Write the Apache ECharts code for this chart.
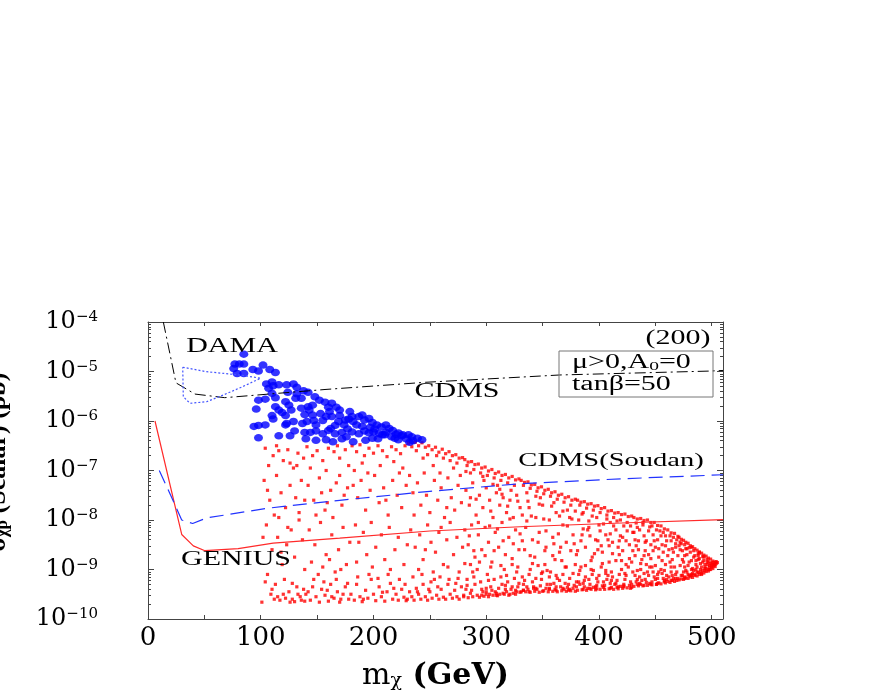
<!DOCTYPE html>
<html>
<head>
<meta charset="utf-8">
<title>Scalar neutralino-proton cross section</title>
<script src="https://cdn.jsdelivr.net/npm/echarts@6/dist/echarts.min.js"></script>
<style>
html, body { margin: 0; padding: 0; background: #fff; }
#chart { width: 872px; height: 698px; }
</style>
</head>
<body>
<div id="chart"></div>
<script>
// x tick labels (GeV) and y decades (pb)
const massTicks = [0, 100, 200, 300, 400, 500];
const decadeTicks = [1e-10, 1e-9, 1e-8, 1e-7, 1e-6, 1e-5, 1e-4];
const minorMultiples = [2, 3, 4, 5, 6, 7, 8, 9];

// limit curves [m (GeV), sigma (pb)]
const cdmsLimit = [[13.6, 1.0e-4], [24.8, 5.9e-6], [30.8, 4.9e-6], [41.7, 3.5e-6], [68, 2.96e-6],
  [157, 4.33e-6], [246, 6.05e-6], [365, 8.5e-6], [498, 1.02e-5], [510, 1.05e-5]];
const damaRegion = [[30.8, 1.22e-5], [52, 9.9e-6], [81.6, 8.5e-6], [99.9, 7.3e-6], [83.3, 4.87e-6],
  [66.8, 3.35e-6], [52, 2.45e-6], [37.2, 2.28e-6], [31.3, 3.1e-6], [30.8, 1.22e-5]];
const soudanLimit = [[10, 1e-7], [20, 3.2e-8], [29.9, 1e-8], [39.6, 8.5e-9], [52, 1.1e-8], [105, 1.72e-8],
  [170, 2.5e-8], [250, 3.8e-8], [330, 5.4e-8], [420, 6.8e-8], [510, 8.2e-8]];
const geniusLimit = [[6.2, 1e-6], [29.9, 5.1e-9], [40.2, 3e-9], [50.5, 2.4e-9], [80, 2.65e-9], [111, 3.4e-9],
  [170, 4.3e-9], [250, 6e-9], [330, 7.3e-9], [420, 8.7e-9], [510, 1.02e-8]];

// model points: [m (GeV), log10 sigma (pb)]
const blueDotsLog = [
  [85,-4.65],[77,-4.85],[81,-4.85],[85,-4.85],[76,-4.94],[79,-5.04],[85,-5.04],[93,-4.96],[98,-4.99],[102,-4.87],
  [108,-4.96],[113,-5.02],[105,-5.25],[110,-5.21],[111,-5.29],[107,-5.34],[116,-5.27],[123,-5.27],[129,-5.25],[132,-5.32],
  [138,-5.39],[142,-5.42],[124,-5.42],[132,-5.45],[131,-5.54],[136,-5.54],[110,-5.44],[98,-5.58],[104,-5.56],[113,-5.53],
  [122,-5.61],[125,-5.68],[148,-5.51],[152,-5.58],[157,-5.62],[163,-5.64],[167,-5.72],[160,-5.72],[170,-5.78],[161,-5.81],
  [142,-5.71],[146,-5.68],[143,-5.78],[96,-5.76],[113,-5.71],[116,-5.78],[119,-5.83],[122,-5.89],[110,-5.89],[111,-5.96],
  [123,-6.05],[129,-6.01],[137,-6.05],[141,-6.01],[147,-5.99],[149,-6.08],[155,-5.99],[158,-5.91],[163,-5.91],[170,-5.89],
  [169,-6.01],[174,-6.08],[166,-6.09],[162,-6.15],[179,-5.81],[181,-5.91],[182,-6.01],[178,-5.96],[187,-5.91],[190,-5.88],
  [192,-5.98],[196,-5.95],[199,-6.03],[203,-6.08],[207,-6.12],[211,-6.08],[214,-6.15],[217,-6.19],[222,-6.24],[226,-6.28],
  [231,-6.28],[234,-6.32],[239,-6.35],[243,-6.38],[94,-6.11],[98,-6.09],[104,-6.08],[122,-6.08],[139,-6.23],[144,-6.23],
  [149,-6.2],[155,-6.26],[160,-6.19],[166,-6.26],[172,-6.23],[177,-6.16],[181,-6.22],[187,-6.26],[192,-6.2],[196,-6.24],
  [200,-6.22],[205,-6.26],[208,-6.28],[211,-6.23],[216,-6.32],[220,-6.27],[225,-6.3],[229,-6.36],[98,-6.34],[116,-6.3],
  [140,-6.36],[149,-6.39],[158,-6.38],[172,-6.36],[182,-6.42],[193,-6.39],[199,-6.35],[204,-6.36],[235,-6.4],[222,-6.38],
  [185,-6.08],[190,-6.11],[197,-6.13],[201,-6.16],[176,-6.32],[164,-6.42],[153,-5.85],[146,-5.88],[139,-5.87],[136,-5.74],
  [127,-5.78],[175,-5.98],[210,-6.28],[219,-6.35],[232,-6.43],[130,-6.2],[126,-6.3]
];

const redDotsLogA = [
  [104,-6.55],[111,-6.7],[116,-6.6],[124,-6.58],[133,-6.65],[138,-6.75],[120,-6.8],[129,-6.95],[107,-6.9],[132,-6.9],
  [126,-6.85],[114,-6.5],[103,-7.2],[108,-7.6],[112,-7.9],[114,-7.1],[118,-7.45],[122,-7.75],[126,-7.3],[131,-7.55],
  [136,-7.2],[134,-7.85],[106,-7.4],[116,-7.95],[139,-7.6],[105,-8.1],[110,-8.6],[115,-8.35],[119,-8.9],[123,-8.5],
  [127,-8.2],[130,-8.75],[137,-8.4],[102,-8.35],[118,-8.65],[124,-8.15],[134,-8.0],[139,-9.0],[106,-9.1],[121,-9.2],
  [101,-9.66],[109,-9.5],[113,-9.3],[117,-9.62],[125,-9.45],[128,-9.6],[132,-9.35],[135,-9.55],[110,-9.4],[122,-9.58],
  [130,-9.65],[138,-9.4],[112,-9.6],[120,-9.5],[128,-9.28],[136,-9.62],[104,-9.25],[115,-9.55],[126,-9.66],[133,-9.5],
  [139,-9.64],
  [141,-6.52],[146,-6.7],[150,-6.6],[155,-6.8],[160,-6.55],[165,-6.62],[170,-6.75],[175,-6.58],[178,-6.9],[144,-6.95],
  [158,-7.0],[168,-6.5],[142,-7.3],[147,-7.6],[152,-7.15],[157,-7.8],[162,-7.4],[167,-7.25],[172,-7.7],[177,-7.35],
  [149,-7.9],[164,-7.95],[174,-7.5],[154,-7.45],[159,-7.65],[170,-7.1],[143,-8.2],[148,-8.5],[153,-8.05],[158,-8.7],
  [163,-8.3],[169,-8.6],[173,-8.15],[179,-8.45],[145,-8.85],[155,-8.95],[161,-8.8],[166,-9.05],[176,-8.9],[151,-9.1],
  [171,-9.0],[140,-9.5],[144,-9.62],[146,-9.35],[149,-9.55],[152,-9.66],[154,-9.4],[157,-9.52],[160,-9.64],[162,-9.3],
  [165,-9.58],[168,-9.45],[170,-9.66],[173,-9.5],[175,-9.35],[178,-9.6],[147,-9.2],[156,-9.25],[167,-9.2],[177,-9.28],
  [142,-9.45],[163,-9.55],[171,-9.6],[159,-9.42]
];

const redDotsLogB = [
  [181,-6.5],[185,-6.62],[188,-6.48],[192,-6.7],[196,-6.55],[200,-6.65],[204,-6.5],[208,-6.6],[212,-6.72],[216,-6.52],
  [220,-6.58],[224,-6.66],[228,-6.5],[190,-6.85],[206,-6.9],[218,-6.82],[226,-6.95],[183,-7.0],[182,-7.3],[186,-7.55],
  [189,-7.2],[193,-7.8],[197,-7.4],[201,-7.1],[205,-7.65],[209,-7.35],[213,-7.9],[217,-7.2],[221,-7.5],[225,-7.75],
  [229,-7.3],[195,-7.05],[211,-7.6],[223,-7.05],[184,-8.1],[187,-8.45],[191,-8.25],[194,-8.7],[198,-8.05],[202,-8.55],
  [207,-8.3],[210,-8.8],[214,-8.15],[219,-8.6],[222,-8.35],[227,-8.9],[199,-8.95],[215,-9.0],[185,-8.85],[230,-8.5],
  [180,-9.5],[183,-9.62],[185,-9.3],[188,-9.55],[190,-9.65],[193,-9.42],[195,-9.58],[198,-9.2],[200,-9.5],[202,-9.63],
  [205,-9.35],[207,-9.55],[210,-9.64],[212,-9.45],[215,-9.28],[217,-9.6],[220,-9.5],[222,-9.62],[225,-9.4],[227,-9.56],
  [229,-9.63],[186,-9.15],[196,-9.1],[204,-9.18],[213,-9.1],[223,-9.2],[191,-9.6],[208,-9.46],[218,-9.38],[228,-9.3],
  [231,-6.45],[234,-6.52],[237,-6.43],[240,-6.5],[243,-6.44],[246,-6.53],[249,-6.5],[252,-6.58],[255,-6.53],[258,-6.63],
  [261,-6.57],[264,-6.66],[267,-6.62],[270,-6.7],[273,-6.68],[276,-6.75],[279,-6.74],[238,-6.6],[248,-6.68],[256,-6.7],
  [262,-6.75],[268,-6.8],[274,-6.85],[244,-6.75],[253,-6.9],[271,-6.95],[232,-7.1],[235,-7.45],[239,-7.25],[242,-7.7],
  [245,-7.05],[247,-7.5],[250,-7.85],[254,-7.2],[257,-7.6],[260,-7.35],[263,-7.95],[266,-7.15],[269,-7.55],[272,-7.8],
  [275,-7.3],[278,-7.65],[236,-7.9],[259,-7.05],[265,-7.75],[277,-7.1],[233,-8.2],[237,-8.55],[241,-8.3],[244,-8.8],
  [248,-8.1],[251,-8.45],[255,-8.65],[258,-8.25],[262,-8.9],[265,-8.4],[268,-8.05],[271,-8.7],[274,-8.35],[279,-8.55],
  [240,-9.0],[253,-9.05],[266,-8.95],[276,-9.05],[246,-8.6],[260,-8.15],[230,-9.6],[232,-9.45],[234,-9.55],[236,-9.62],
  [238,-9.38],[240,-9.5],[242,-9.6],[244,-9.3],[246,-9.55],[248,-9.62],[250,-9.45],[252,-9.58],[254,-9.2],[256,-9.52],
  [258,-9.6],[260,-9.4],[262,-9.56],[264,-9.6],[266,-9.3],[268,-9.5],[270,-9.58],[272,-9.42],[274,-9.55],[276,-9.6],
  [278,-9.35],[280,-9.52],[235,-9.15],[243,-9.1],[251,-9.25],[259,-9.15],[267,-9.2],[275,-9.18],[239,-9.45],[257,-9.35],
  [273,-9.28],[249,-9.4]
];

const redDotsLogC = [
  [281,-6.78],[284,-6.83],[287,-6.82],[290,-6.88],[293,-6.87],[296,-6.95],[299,-6.93],[302,-7.01],[305,-6.98],[308,-7.06],
  [311,-7.03],[314,-7.1],[317,-7.08],[320,-7.15],[323,-7.12],[326,-7.19],[329,-7.17],[283,-6.9],[289,-6.98],[295,-7.05],
  [301,-7.1],[307,-7.15],[313,-7.2],[319,-7.25],[325,-7.3],[286,-7.05],[298,-7.2],[310,-7.3],[322,-7.4],[282,-7.4],
  [285,-7.7],[288,-7.25],[291,-7.9],[294,-7.5],[297,-7.75],[300,-7.35],[303,-7.6],[306,-7.95],[309,-7.45],[312,-7.7],
  [315,-7.55],[318,-7.85],[321,-7.6],[324,-7.95],[327,-7.5],[330,-7.75],[281,-8.2],[284,-8.5],[287,-8.1],[290,-8.75],
  [293,-8.3],[296,-8.6],[299,-8.15],[302,-8.45],[305,-8.85],[308,-8.25],[311,-8.55],[314,-8.05],[317,-8.7],[320,-8.35],
  [323,-8.9],[326,-8.2],[329,-8.6],[292,-9.0],[304,-8.95],[316,-9.0],[328,-8.95],[286,-8.9],[280,-9.55],[282,-9.4],
  [284,-9.57],[286,-9.48],[288,-9.55],[290,-9.3],[292,-9.52],[294,-9.56],[296,-9.4],[298,-9.54],[300,-9.5],[302,-9.55],
  [304,-9.35],[306,-9.52],[308,-9.45],[310,-9.53],[312,-9.5],[314,-9.3],[316,-9.5],[318,-9.45],[320,-9.52],[322,-9.4],
  [324,-9.48],[326,-9.5],[328,-9.35],[330,-9.46],[283,-9.2],[289,-9.15],[295,-9.25],[301,-9.1],[307,-9.2],[313,-9.15],
  [319,-9.25],[325,-9.18],[287,-9.42],[297,-9.45],[305,-9.42],[311,-9.38],[317,-9.4],[323,-9.35],[329,-9.28],
  [331,-7.2],[334,-7.24],[337,-7.23],[340,-7.29],[343,-7.28],[346,-7.35],[349,-7.33],[352,-7.4],[355,-7.38],[358,-7.45],
  [361,-7.43],[364,-7.5],[367,-7.48],[370,-7.55],[373,-7.53],[376,-7.6],[379,-7.58],[333,-7.3],[339,-7.36],[345,-7.42],
  [351,-7.47],[357,-7.52],[363,-7.58],[369,-7.64],[375,-7.7],[336,-7.45],[348,-7.55],[360,-7.65],[372,-7.8],[332,-7.9],
  [335,-8.15],[338,-7.75],[341,-8.4],[344,-7.95],[347,-8.25],[350,-7.7],[353,-8.55],[356,-8.0],[359,-8.35],[362,-7.85],
  [365,-8.65],[368,-8.1],[371,-8.45],[374,-7.95],[377,-8.3],[380,-8.7],[334,-8.6],[343,-8.75],[352,-8.9],[361,-8.8],
  [370,-8.95],[379,-8.9],[339,-9.0],[357,-9.05],[366,-8.55],[346,-8.45],[331,-9.45],[333,-9.3],[335,-9.45],[337,-9.4],
  [339,-9.46],[341,-9.25],[343,-9.44],[345,-9.4],[347,-9.46],[349,-9.2],[351,-9.43],[353,-9.38],[355,-9.45],[357,-9.3],
  [359,-9.44],[361,-9.4],[363,-9.45],[365,-9.22],[367,-9.43],[369,-9.4],[371,-9.44],[373,-9.3],[375,-9.43],[377,-9.38],
  [379,-9.44],[332,-9.15],[338,-9.1],[344,-9.18],[350,-9.05],[356,-9.15],[362,-9.12],[368,-9.1],[374,-9.18],[380,-9.25],
  [336,-9.35],[342,-9.35],[348,-9.33],[354,-9.3],[360,-9.28],[366,-9.35],[372,-9.36],[378,-9.32],
  [282,-7.02],[285,-8.32],[288,-9.05],[291,-7.58],[294,-8.85],[283,-9.32],[297,-7.12],[299,-8.72],[302,-9.22],[304,-7.82],
  [307,-8.62],[309,-9.48],[312,-7.38],[315,-8.42],[318,-9.12],[321,-7.98],[323,-8.78],[326,-9.42],[328,-7.62],[330,-8.28],
  [286,-7.55],[293,-8.05],[300,-9.38],[306,-7.28],[313,-8.92],[319,-7.72],[327,-9.05],[289,-8.62],[296,-9.52],[310,-8.18],
  [317,-9.32],[324,-8.48],[281,-8.88],[303,-8.12],[314,-7.48],
  [332,-8.42],[334,-9.22],[337,-7.62],[339,-8.72],[342,-9.38],[344,-7.52],[346,-8.92],[349,-9.08],[351,-7.98],[353,-8.22],
  [356,-9.38],[358,-7.72],[360,-8.48],[363,-9.18],[365,-7.92],[367,-8.82],[370,-9.28],[372,-8.12],[375,-8.62],[377,-9.08],
  [379,-7.82],[336,-8.02],[341,-8.88],[347,-7.68],[354,-9.02],[359,-8.72],[364,-8.28],[368,-7.82],[373,-9.42],[378,-8.48],
  [333,-9.42],[340,-7.92],[352,-8.62],[362,-9.35],[371,-8.95],[376,-7.98]
];

const redDotsLogD = [
  [381,-7.6],[384,-7.64],[387,-7.63],[390,-7.68],[393,-7.67],[396,-7.72],[399,-7.71],[402,-7.77],[405,-7.75],[408,-7.82],
  [411,-7.81],[414,-7.86],[417,-7.85],[420,-7.89],[423,-7.88],[426,-7.93],[429,-7.92],[383,-7.7],[389,-7.76],[395,-7.8],
  [401,-7.85],[407,-7.9],[413,-7.95],[419,-8.0],[425,-8.05],[386,-7.85],[398,-7.95],[410,-8.05],[422,-8.12],[382,-8.0],
  [385,-8.3],[388,-8.55],[391,-8.15],[394,-8.75],[397,-8.4],[400,-8.1],[403,-8.65],[406,-8.3],[409,-8.85],[412,-8.45],
  [415,-8.2],[418,-8.7],[421,-8.35],[424,-8.9],[427,-8.5],[430,-8.25],[384,-8.95],[393,-9.0],[402,-8.95],[411,-9.05],
  [420,-9.0],[429,-8.85],[390,-8.2],[399,-8.6],[408,-8.4],[417,-8.55],[381,-9.42],[383,-9.3],[385,-9.41],[387,-9.35],
  [389,-9.42],[391,-9.2],[393,-9.4],[395,-9.36],[397,-9.41],[399,-9.25],[401,-9.4],[403,-9.33],[405,-9.4],[407,-9.2],
  [409,-9.39],[411,-9.36],[413,-9.4],[415,-9.28],[417,-9.39],[419,-9.34],[421,-9.38],[423,-9.2],[425,-9.37],[427,-9.32],
  [429,-9.36],[382,-9.1],[388,-9.15],[394,-9.1],[400,-9.12],[406,-9.08],[412,-9.15],[418,-9.1],[424,-9.12],[430,-9.05],
  [386,-9.28],[392,-9.3],[398,-9.32],[404,-9.25],[410,-9.28],[416,-9.22],[422,-9.3],[428,-9.25],
  [381,-8.62],[383,-9.02],[385,-7.88],[388,-8.92],[390,-9.38],[392,-8.32],[394,-7.92],[396,-8.68],[398,-9.18],[401,-8.22],
  [403,-8.88],[405,-9.32],[407,-7.98],[409,-8.52],[411,-9.22],[413,-8.12],[415,-8.82],[417,-9.35],[419,-8.32],[421,-8.62],
  [423,-9.08],[425,-8.22],[427,-8.78],[429,-9.3],[384,-8.42],[387,-9.22],[391,-8.02],[395,-9.02],[399,-8.42],[404,-8.08],
  [408,-9.12],[412,-8.68],[416,-8.02],[420,-8.82],[424,-8.42],[428,-8.12],[382,-9.25],[386,-8.18],[393,-8.82],[397,-9.35],
  [402,-8.52],[406,-9.02],[410,-8.28],[414,-9.3],[418,-8.42],[422,-9.35],[426,-8.95],[430,-8.62],
  [431,-7.95],[434,-7.98],[437,-7.97],[440,-8.01],[443,-8.0],[446,-8.05],[449,-8.05],[452,-8.11],[455,-8.12],[458,-8.18],
  [461,-8.2],[464,-8.26],[467,-8.27],[470,-8.33],[433,-8.06],[439,-8.1],[445,-8.14],[451,-8.2],[457,-8.25],[463,-8.32],
  [469,-8.4],[436,-8.2],[448,-8.3],[460,-8.42],[432,-8.4],[435,-8.6],[438,-8.8],[441,-8.45],[444,-8.7],[447,-8.95],
  [450,-8.55],[453,-8.75],[456,-8.5],[459,-8.9],[462,-8.6],[465,-8.8],[468,-8.55],[437,-9.0],[446,-8.5],[455,-9.0],
  [464,-8.95],[442,-8.9],[452,-8.4],[466,-8.65],[431,-9.34],[433,-9.25],[435,-9.33],[437,-9.3],[439,-9.33],[441,-9.2],
  [443,-9.32],[445,-9.28],[447,-9.31],[449,-9.15],[451,-9.3],[453,-9.27],[455,-9.29],[457,-9.18],[459,-9.27],[461,-9.24],
  [463,-9.26],[465,-9.12],[467,-9.24],[469,-9.22],[432,-9.12],[436,-9.15],[440,-9.08],[444,-9.12],[448,-9.05],[452,-9.1],
  [456,-9.08],[460,-9.12],[464,-9.05],[468,-9.1],[434,-9.2],[442,-9.26],[450,-9.2],[458,-9.22],[466,-9.18],
  [431,-8.25],[432,-8.72],[434,-9.02],[435,-8.42],[437,-8.88],[438,-9.22],[440,-8.32],[441,-8.62],[443,-9.05],[444,-8.22],
  [446,-8.78],[447,-9.25],[449,-8.42],[450,-8.92],[452,-9.18],[453,-8.58],[455,-8.32],[456,-8.82],[458,-9.02],[459,-8.52],
  [461,-8.72],[462,-9.15],[464,-8.42],[465,-8.58],[467,-8.95],[468,-9.18],[470,-8.72],[433,-8.52],[436,-9.28],[439,-8.05],
  [442,-8.42],[445,-8.95],[448,-8.62],[451,-9.3],[454,-8.22],[457,-8.65],[460,-9.2],[463,-8.85],[466,-8.35],[469,-9.05],
  [434,-8.15],[440,-8.72],[447,-8.12],[453,-9.05],[459,-8.32],[465,-9.22],[468,-8.48],
  [471,-8.35],[473,-8.39],[475,-8.41],[477,-8.45],[479,-8.47],[481,-8.52],[483,-8.54],[485,-8.58],[487,-8.61],[489,-8.65],
  [491,-8.67],[493,-8.71],[495,-8.73],[497,-8.77],[499,-8.79],[501,-8.83],[503,-8.85],[472,-8.45],[476,-8.5],[480,-8.56],
  [484,-8.62],[488,-8.68],[492,-8.74],[496,-8.8],[500,-8.86],[472,-8.6],[474,-8.8],[476,-8.95],[478,-8.7],[480,-8.85],
  [482,-9.0],[484,-8.75],[486,-8.9],[488,-8.8],[490,-9.0],[492,-8.85],[494,-8.95],[496,-8.9],[498,-9.0],[500,-8.95],
  [502,-8.92],[504,-8.88],[475,-9.05],[479,-9.1],[483,-9.08],[487,-9.05],[491,-9.1],[471,-9.21],[473,-9.19],[475,-9.2],
  [477,-9.17],[479,-9.18],[481,-9.15],[483,-9.16],[485,-9.12],[487,-9.13],[489,-9.1],[491,-9.08],[493,-9.07],[495,-9.04],
  [497,-9.03],[499,-9.0],[501,-8.98],[503,-8.94],[474,-9.12],[478,-9.05],[482,-9.1],[486,-9.0],[490,-9.05],[494,-8.98],
  [498,-8.92],[502,-8.9],[505,-8.86],
  [471,-8.52],[472,-8.92],[473,-9.12],[474,-8.62],[476,-8.72],[477,-9.02],[478,-8.58],[479,-8.92],[481,-8.65],[482,-8.82],
  [483,-8.98],[485,-8.72],[486,-8.82],[487,-8.95],[489,-8.78],[490,-8.88],[491,-8.95],[493,-8.82],[494,-8.9],[495,-8.98],
  [497,-8.85],[498,-8.95],[499,-8.88],[501,-8.9],[502,-8.86],[503,-8.9],[473,-8.48],[475,-8.85],[477,-8.58],[480,-9.12],
  [484,-9.02],[488,-8.72],[492,-9.02],[496,-8.85],[500,-8.92],[504,-8.84],[476,-9.15],[482,-8.55],[485,-9.1],[489,-8.65],
  [493,-8.75],[497,-9.0]
];

// dense lower band of the allowed region
const redDotsLogEdge = [
  [300,-9.45],[303,-9.5],[309,-9.52],[315,-9.48],[321,-9.5],[327,-9.45],[333,-9.42],[338,-9.45],[344,-9.38],[350,-9.44],
  [356,-9.4],[362,-9.42],[368,-9.38],[374,-9.4],[380,-9.35],[386,-9.4],[392,-9.38],[398,-9.39],[404,-9.36],[410,-9.38],
  [416,-9.36],[422,-9.33],[428,-9.38],[434,-9.3],[440,-9.32],[446,-9.3],[452,-9.28],[458,-9.25],[464,-9.22],[470,-9.18],
  [476,-9.18],[482,-9.12],[488,-9.06],[494,-9.02],[500,-8.95]
];

const fromLog = pts => pts.map(p => [p[0], Math.pow(10, p[1])]);
const redDots = fromLog([].concat(redDotsLogA, redDotsLogB, redDotsLogC, redDotsLogD, redDotsLogEdge));
const blueDots = fromLog(blueDotsLog);

// minor log ticks, placed on a linear exponent axis that spans the same decades
const minorTickExponents = [];
decadeTicks.slice(0, -1).forEach(d => minorMultiples.forEach(m => minorTickExponents.push(Math.log10(m * d))));

const serif = 'Liberation Serif';
const wideSerif = 'DejaVu Serif';
const frameColor = '#444';

function powerLabel(v) {
  const e = Math.round(Math.log10(v));
  return '{b|10}{s|\u2212' + Math.abs(e) + '}';
}

const chart = echarts.init(document.getElementById('chart'));

const yBase = {
  type: 'log', logBase: 10, min: 1e-10, max: 1e-4, gridIndex: 0,
  splitLine: { show: false }, axisLabel: { show: false },
  axisLine: { show: false }
};
const yMinor = {
  type: 'value', min: -10, max: -4, gridIndex: 0,
  splitLine: { show: false }, axisLabel: { show: false }, axisLine: { show: false },
  axisTick: { show: true, inside: true, length: 3, customValues: minorTickExponents, lineStyle: { color: frameColor } }
};

chart.setOption({
  animation: false,
  backgroundColor: '#fff',
  grid: { left: 148, right: 149, top: 322, bottom: 79, outerBoundsMode: 'none', containLabel: false },
  xAxis: [
    {
      type: 'value', min: 0, max: 510, interval: 50, position: 'bottom',
      axisLine: { show: true, lineStyle: { color: frameColor, width: 1 } },
      axisTick: { show: true, inside: true, length: 4, lineStyle: { color: frameColor } },
      splitLine: { show: false },
      axisLabel: {
        margin: 6, color: '#000', fontFamily: wideSerif, fontSize: 26,
        formatter: v => massTicks.indexOf(v) >= 0 ? String(v) : ''
      },
      name: '{m|m}{c|\u03c7}{g| (GeV)}', nameLocation: 'middle', nameGap: 42, nameMoveOverlap: false,
      nameTextStyle: {
        rich: {
          m: { fontFamily: wideSerif, fontSize: 30, color: '#000' },
          c: { fontFamily: wideSerif, fontSize: 19, color: '#000', verticalAlign: 'bottom' },
          g: { fontFamily: wideSerif, fontSize: 30, fontWeight: 'bold', color: '#000' }
        }
      }
    },
    {
      type: 'value', min: 0, max: 510, interval: 50, position: 'top',
      axisLine: { show: true, lineStyle: { color: frameColor, width: 1 } },
      axisTick: { show: true, inside: true, length: 4, lineStyle: { color: frameColor } },
      splitLine: { show: false }, axisLabel: { show: false }
    }
  ],
  yAxis: [
    Object.assign({}, yBase, {
      position: 'left',
      axisLine: { show: true, lineStyle: { color: frameColor, width: 1 } },
      axisTick: { show: true, inside: true, length: 6, lineStyle: { color: frameColor } },
      axisLabel: {
        show: true, margin: 50, color: '#000', formatter: powerLabel,
        rich: {
          b: { fontFamily: wideSerif, fontSize: 24, color: '#000' },
          s: { fontFamily: wideSerif, fontSize: 15, color: '#000', verticalAlign: 'top' }
        }
      }
    }),
    Object.assign({}, yMinor, { position: 'left' }),
    Object.assign({}, yBase, {
      position: 'right',
      axisLine: { show: true, lineStyle: { color: frameColor, width: 1 } },
      axisTick: { show: true, inside: true, length: 6, lineStyle: { color: frameColor } }
    }),
    Object.assign({}, yMinor, { position: 'right' })
  ],
  series: [
    {
      name: 'tan beta 50 points', type: 'scatter', data: redDots, silent: true,
      symbol: 'rect', symbolSize: 3.2, itemStyle: { color: '#ff0000' }
    },
    {
      name: 'DAMA compatible', type: 'scatter', data: blueDots, silent: true,
      symbol: 'circle', symbolSize: [9, 7.5], itemStyle: { color: '#0000ff' }
    },
    {
      name: 'GENIUS', type: 'line', data: geniusLimit, showSymbol: false, silent: true,
      lineStyle: { color: '#ff2a2a', width: 1.2 }
    },
    {
      name: 'CDMS(Soudan)', type: 'line', data: soudanLimit, showSymbol: false, silent: true,
      lineStyle: { color: '#2233ff', width: 1.2, type: [14, 7] }
    },
    {
      name: 'CDMS', type: 'line', data: cdmsLimit, showSymbol: false, silent: true,
      lineStyle: { color: '#000', width: 1, type: [11, 4, 2, 4] }
    },
    {
      name: 'DAMA', type: 'line', data: damaRegion, showSymbol: false, silent: true,
      lineStyle: { color: '#4455ff', width: 1.2, type: [2, 2] }
    }
  ],
  graphic: [
    { type: 'text', x: 232, y: 347, scaleX: 1.5, z: 100,
      style: { text: 'DAMA', font: '20px "' + serif + '"', fill: '#000', textAlign: 'center', textVerticalAlign: 'middle' } },
    { type: 'text', x: 457, y: 392, scaleX: 1.5, z: 100,
      style: { text: 'CDMS', font: '20px "' + serif + '"', fill: '#000', textAlign: 'center', textVerticalAlign: 'middle' } },
    { type: 'text', x: 611, y: 461, scaleX: 1.5, z: 100,
      style: { text: 'CDMS(Soudan)', font: '19px "' + serif + '"', fill: '#000', textAlign: 'center', textVerticalAlign: 'middle' } },
    { type: 'text', x: 236, y: 560, scaleX: 1.5, z: 100,
      style: { text: 'GENIUS', font: '20px "' + serif + '"', fill: '#000', textAlign: 'center', textVerticalAlign: 'middle' } },
    { type: 'text', x: 678, y: 339, scaleX: 1.5, z: 100,
      style: { text: '(200)', font: '20px "' + serif + '"', fill: '#000', textAlign: 'center', textVerticalAlign: 'middle' } },
    { type: 'rect', z: 100, shape: { x: 559, y: 351, width: 154, height: 46 },
      style: { fill: 'none', stroke: '#777', lineWidth: 1 } },
    { type: 'text', x: 572, y: 363, scaleX: 1.5, z: 100,
      style: {
        text: '{a|\u03bc>0,A}{s|0}{a|=0}', textAlign: 'left', textVerticalAlign: 'middle',
        rich: {
          a: { fontFamily: serif, fontSize: 20, color: '#000' },
          s: { fontFamily: serif, fontSize: 13, color: '#000', verticalAlign: 'bottom' }
        }
      } },
    { type: 'text', x: 572, y: 385, scaleX: 1.5, z: 100,
      style: { text: 'tan\u03b2=50', font: '20px "' + serif + '"', fill: '#000', textAlign: 'left', textVerticalAlign: 'middle' } },
    { type: 'text', x: 11, y: 462, rotation: Math.PI / 2, z: 100,
      style: {
        text: '{a|\u03c3}{s|\u03c7p}{a| (Scalar) (pb)}', textAlign: 'center', textVerticalAlign: 'bottom',
        rich: {
          a: { fontFamily: serif, fontSize: 26, fontWeight: 'bold', color: '#000' },
          s: { fontFamily: serif, fontSize: 17, fontWeight: 'bold', color: '#000', verticalAlign: 'bottom' }
        }
      } }
  ]
});
</script>
</body>
</html>
